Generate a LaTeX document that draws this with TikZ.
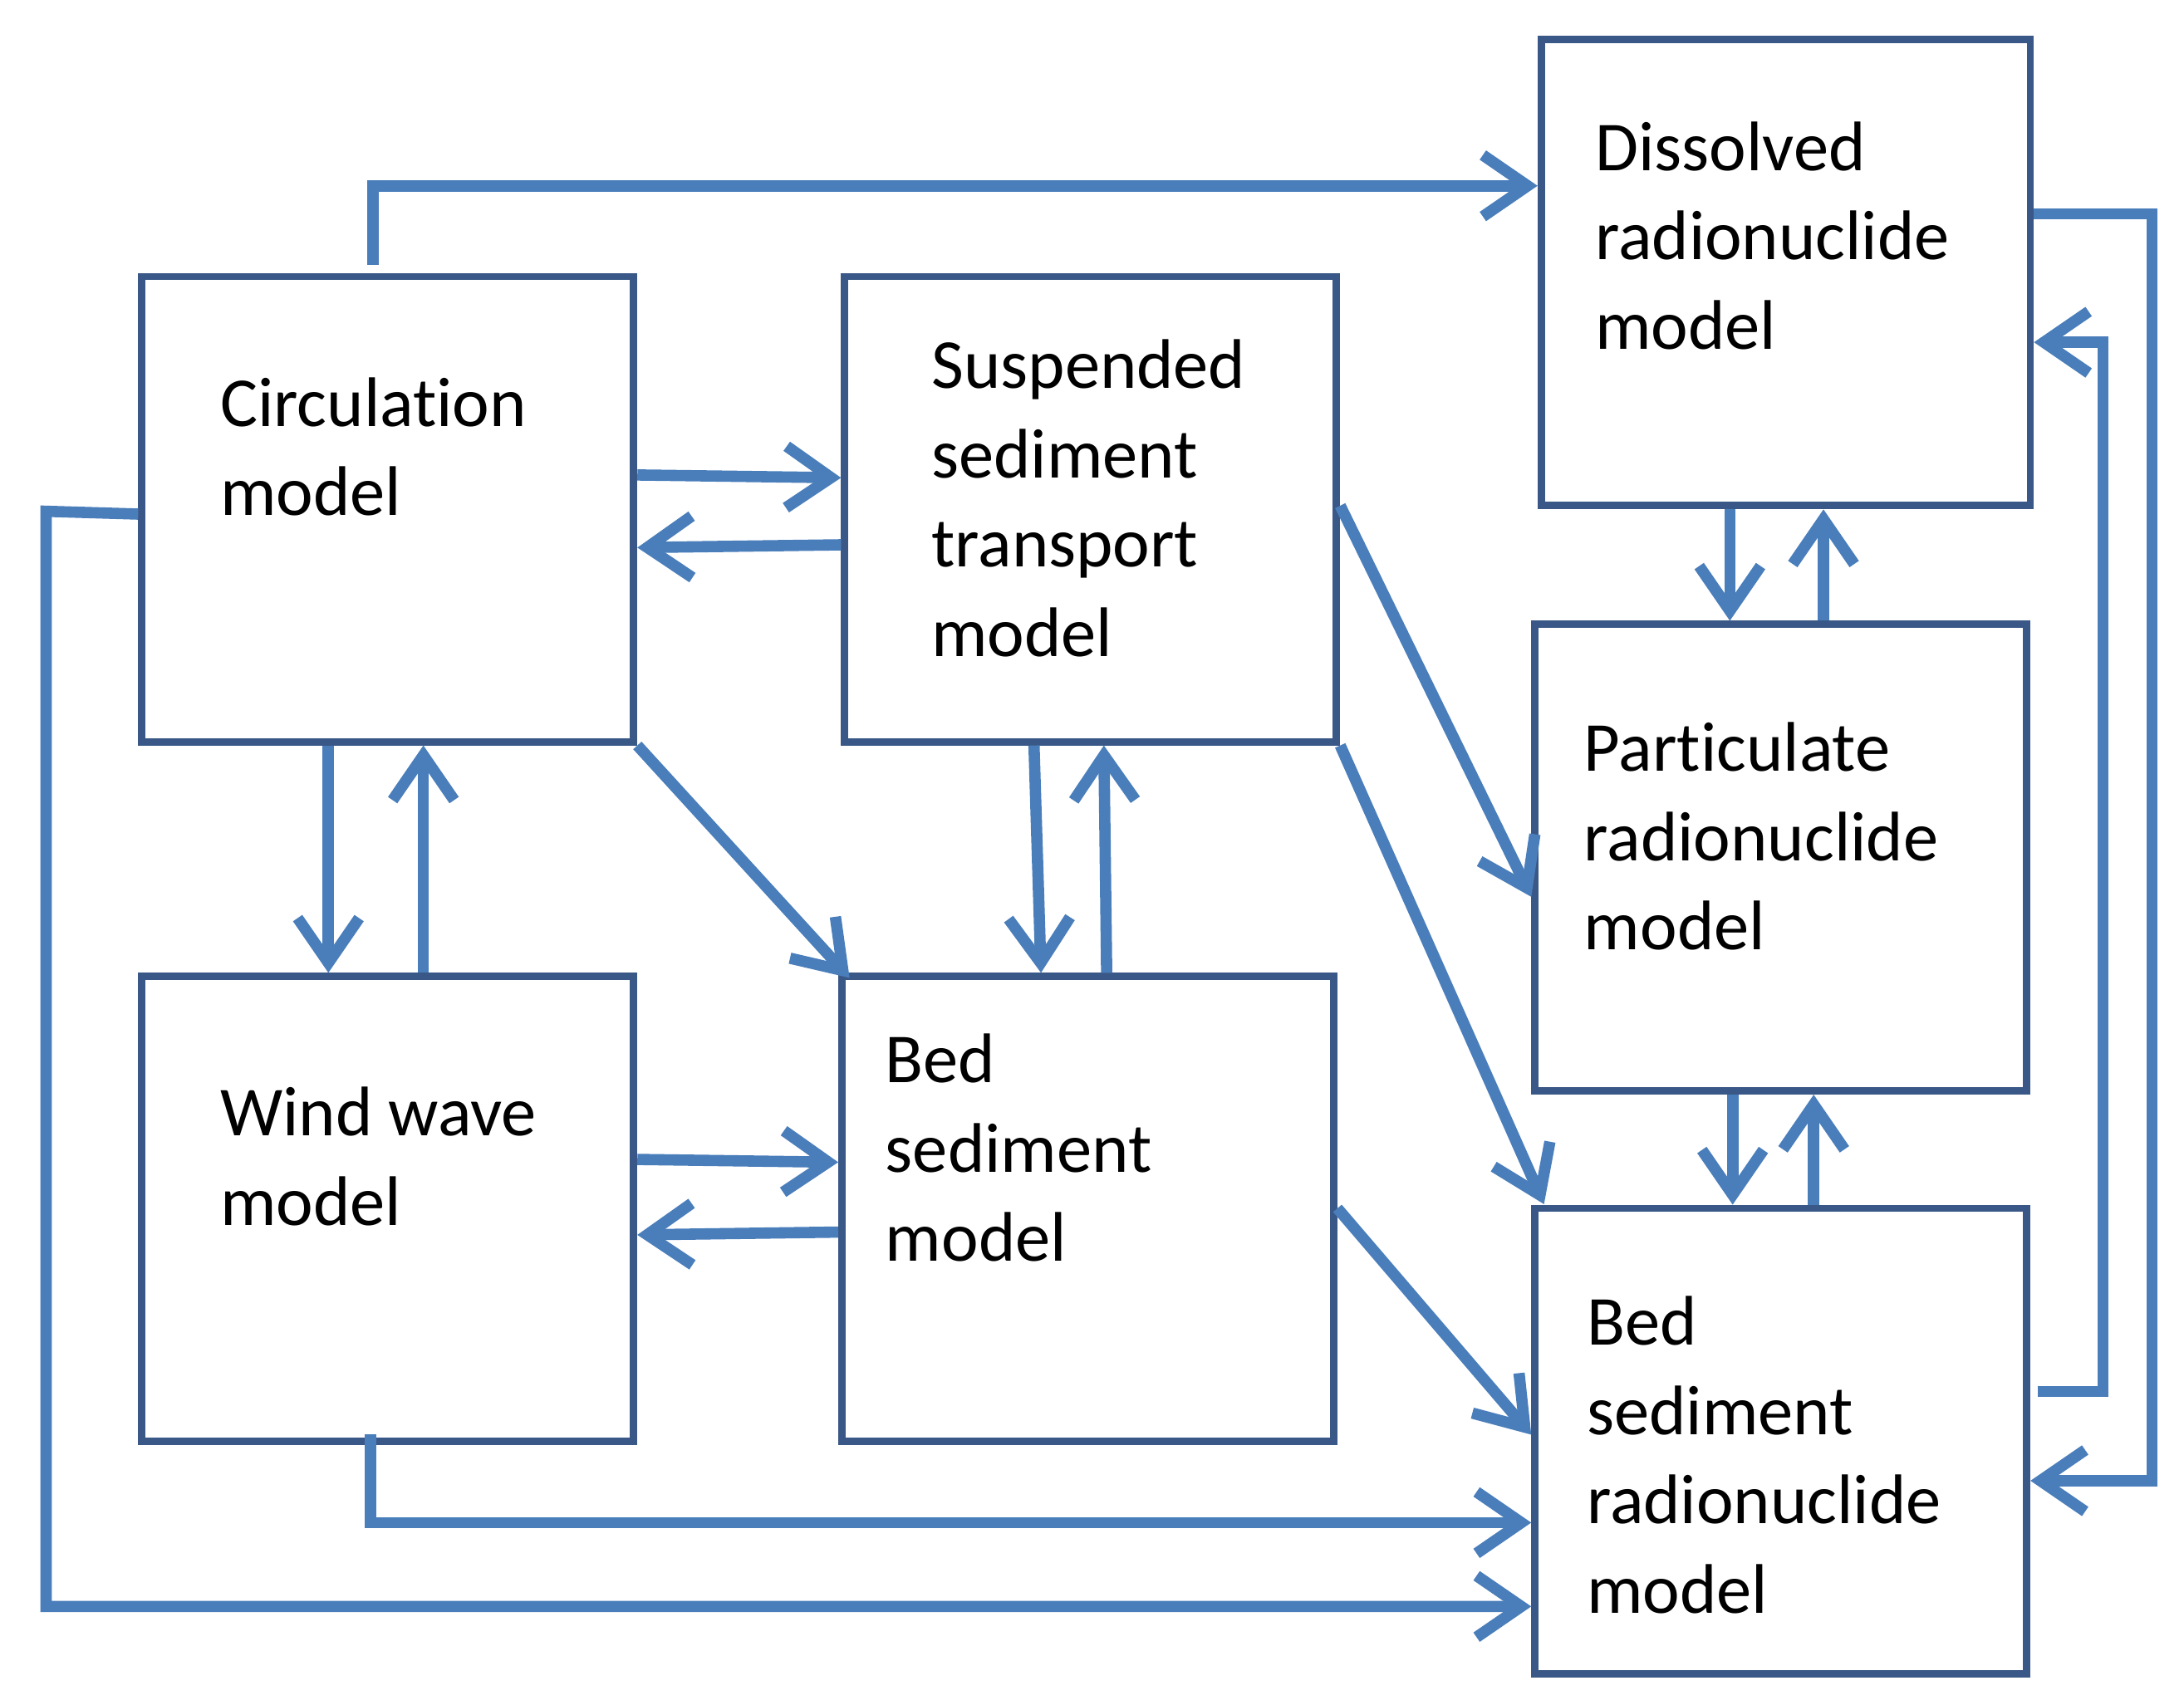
\documentclass[tikz,border=0pt]{standalone}
\usepackage{fontspec}
\setmainfont{Carlito}[Ligatures=NoCommon]
\usetikzlibrary{arrows.meta,calc}
\definecolor{arr}{RGB}{74,126,187}
\definecolor{bord}{RGB}{58,88,135}
\begin{document}
\begin{tikzpicture}[
  box/.style={draw=bord,line width=1.5pt,minimum width=3.52cm,minimum height=3.33cm,inner sep=0},
  txt/.style={anchor=base west,inner sep=0,font=\fontsize{14.3}{18.2}\selectfont},
  con/.style={draw=arr,line width=2.3pt,-{Straight Barb[length=3.2mm,width=4.4mm,line width=2.3pt]}},
  ln/.style={draw=arr,line width=2.3pt}]
\useasboundingbox (0,0) rectangle (15.63,-12.2);
\node[box] (circ) at (2.775,-3.645) {};
\node[box] (susp) at (7.805,-3.645) {};
\node[box,minimum width=3.5cm,minimum height=3.34cm] (diss) at (12.78,-1.95) {};
\node[box,minimum height=3.34cm] (part) at (12.745,-6.14) {};
\node[box] (wind) at (2.775,-8.655) {};
\node[box] (bed) at (7.785,-8.655) {};
\node[box] (bsr) at (12.745,-10.315) {};
\newcommand{\tl}[1]{\begin{tabular}[t]{@{}l@{}}#1\end{tabular}}
\node[txt] (circT) at (1.57,-3.05) {\tl{Circulation\\model}};
\node[txt] (suspT) at (6.66,-2.78) {\tl{Suspended\\sediment\\transport\\model}};
\node[txt] (dissT) at (11.41,-1.22) {\tl{Dissolved\\radionuclide\\model}};
\node[txt] (partT) at (11.33,-5.52) {\tl{Particulate\\radionuclide\\model}};
\node[txt] (windT) at (1.57,-8.13) {\tl{Wind wave\\model}};
\node[txt] (bedT) at (6.33,-7.75) {\tl{Bed\\sediment\\model}};
\node[txt] (bsrT) at (11.35,-9.63) {\tl{Bed\\sediment\\radionuclide\\model}};
% circulation -> dissolved
\draw[con] ($(circ.north)+(-0.105,0.06)$) |- (diss.west |- 0,-1.33);
% circ <-> susp
\draw[con] (circ.east |- 0,-3.40) -- (susp.west |- 0,-3.42);
\draw[con] (susp.west |- 0,-3.90) -- (circ.east |- 0,-3.92);
% circ <-> wind
\draw[con] (circ.south -| 2.35,0) -- (wind.north -| 2.35,0);
\draw[con] (wind.north -| 3.03,0) -- (circ.south -| 3.03,0);
\draw[con] (circ.south east) -- (6.08,-7.0);
% wind <-> bed
\draw[con] (wind.east |- 0,-8.30) -- (bed.west |- 0,-8.32);
\draw[con] (bed.west |- 0,-8.82) -- (wind.east |- 0,-8.84);
% susp <-> bed
\draw[con] (susp.south -| 7.40,0) -- (bed.north -| 7.45,0);
\draw[con] (bed.north -| 7.92,0) -- (susp.south -| 7.90,0);
% susp -> part, bsr
\draw[con] (susp.east |- 0,-3.62) -- (part.west |- 0,-6.42);
\draw[con] (susp.south east) -- (11.05,-8.62);
\draw[con] (bed.east |- 0,-8.65) -- (bsr.west |- 0,-10.27);
% diss <-> part
\draw[con] (diss.south -| 12.38,0) -- (part.north -| 12.38,0);
\draw[con] (part.north -| 13.05,0) -- (diss.south -| 13.05,0);
% part <-> bsr
\draw[con] (part.south -| 12.40,0) -- (bsr.north -| 12.40,0);
\draw[con] (bsr.north -| 12.98,0) -- (part.south -| 12.98,0);
% diss -> bsr (outer right)
\draw[con] (diss.east |- 0,-1.53) -| (15.40,-10.60) -- (bsr.east |- 0,-10.60);
% bsr -> diss (inner right)
\draw[con] ($(bsr.east |- 0,-9.96)+(0.05,0)$) -| (15.05,-2.45) -- (diss.east |- 0,-2.45);
% wind -> bsr
\draw[con] ($(wind.south -| 2.65,0)+(0,0.08)$) |- (bsr.west |- 0,-10.90);
% circ -> bsr
\draw[con] (circ.west |- 0,-3.68) -- (0.33,-3.66) |- (bsr.west |- 0,-11.50);
\end{tikzpicture}
\end{document}
